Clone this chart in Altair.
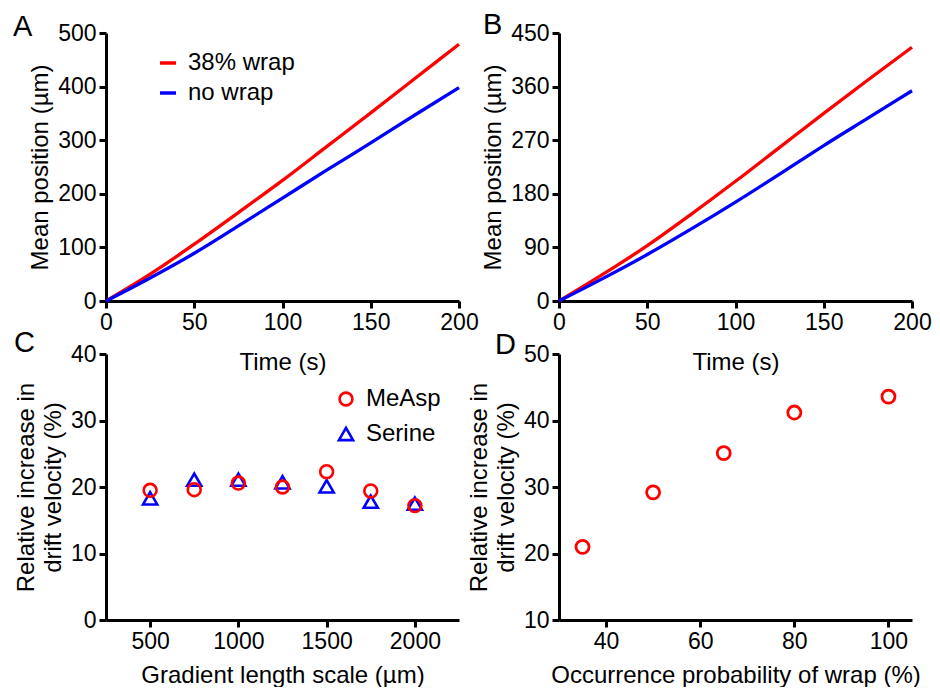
import altair as alt
import pandas as pd

# ---- data ----
time_s = [0, 25, 50, 75, 100, 125, 150, 175, 200]
a_wrap = [0, 50, 106, 165, 225, 288, 351, 415, 479]
a_nowrap = [0, 43, 89, 140, 192, 244, 295, 347, 398]
b_wrap = [0, 45, 93, 146, 201, 258, 315, 371, 426]
b_nowrap = [0, 38, 78, 121, 166, 213, 261, 307, 353]
series_names = ["38% wrap", "no wrap"]
series_colors = ["#ff0000", "#0000ff"]

gradient_um = [500, 750, 1000, 1250, 1500, 1750, 2000]
c_measp = [19.5, 19.6, 20.6, 20.0, 22.3, 19.4, 17.2]
c_serine = [18.3, 21.1, 21.1, 20.7, 20.1, 17.8, 17.5]
attractants = ["MeAsp", "Serine"]

wrap_prob = [35, 50, 65, 80, 100]
d_increase = [21.0, 29.2, 35.1, 41.2, 43.6]

panel_letters = ["A", "B", "C", "D"]

FONT = "Liberation Sans"
W = 353


def lines_df(wrap, nowrap):
    rows = []
    for t, v in zip(time_s, wrap):
        rows.append({"t": t, "v": v, "s": series_names[0]})
    for t, v in zip(time_s, nowrap):
        rows.append({"t": t, "v": v, "s": series_names[1]})
    return pd.DataFrame(rows)


def letter(ch, dx, dy):
    return alt.Chart(pd.DataFrame({"lab": [ch]})).mark_text(
        font=FONT, fontSize=29, align="left", baseline="alphabetic", color="black"
    ).encode(x=alt.value(dx), y=alt.value(dy), text="lab:N")


def xaxis(title, values, tp):
    return alt.Axis(title=title, values=values, grid=False, format="d", titlePadding=tp)


def yaxis(title, values):
    return alt.Axis(title=title, values=values, grid=False, format="d")


# Panel A
dfa = lines_df(a_wrap, a_nowrap)
lineA = alt.Chart(dfa).mark_line(strokeWidth=3.3, interpolate="monotone").encode(
    x=alt.X("t:Q", scale=alt.Scale(domain=[0, 200], nice=False),
            axis=xaxis("Time (s)", [0, 50, 100, 150, 200], 16)),
    y=alt.Y("v:Q", scale=alt.Scale(domain=[0, 500], nice=False),
            axis=yaxis("Mean position (µm)", [0, 100, 200, 300, 400, 500])),
    color=alt.Color("s:N", scale=alt.Scale(domain=series_names, range=series_colors),
                    legend=alt.Legend(title=None, orient="none", legendX=50, legendY=18,
                                      symbolType="stroke", symbolSize=256,
                                      symbolStrokeWidth=3.5, labelFontSize=24,
                                      labelFont=FONT, rowPadding=6, labelOffset=8,
                                      labelColor="black")),
)
panelA = alt.layer(lineA, letter("A", -93, 3)).properties(width=W, height=268)

# Panel B
dfb = lines_df(b_wrap, b_nowrap)
lineB = alt.Chart(dfb).mark_line(strokeWidth=3.3, interpolate="monotone").encode(
    x=alt.X("t:Q", scale=alt.Scale(domain=[0, 200], nice=False),
            axis=xaxis("Time (s)", [0, 50, 100, 150, 200], 16)),
    y=alt.Y("v:Q", scale=alt.Scale(domain=[0, 450], nice=False),
            axis=yaxis("Mean position (µm)", [0, 90, 180, 270, 360, 450])),
    color=alt.Color("s:N", scale=alt.Scale(domain=series_names, range=series_colors),
                    legend=None),
)
panelB = alt.layer(lineB, letter("B", -76, 1)).properties(width=W, height=268)

# Panel C
rows = []
for g, v in zip(gradient_um, c_serine):
    rows.append({"g": g, "v": v, "a": attractants[1]})
for g, v in zip(gradient_um, c_measp):
    rows.append({"g": g, "v": v, "a": attractants[0]})
dfc = pd.DataFrame(rows)
legC = alt.Legend(title=None, orient="none", legendX=228, legendY=33,
                  symbolSize=160, symbolStrokeWidth=2.6,
                  labelFontSize=24, labelFont=FONT, rowPadding=11,
                  labelOffset=8, labelColor="black")
ptsC = alt.Chart(dfc).mark_point(filled=False, strokeWidth=2.6, opacity=1).encode(
    x=alt.X("g:Q", scale=alt.Scale(domain=[250, 2250], nice=False),
            axis=xaxis("Gradient length scale (µm)", [500, 1000, 1500, 2000], 10)),
    y=alt.Y("v:Q", scale=alt.Scale(domain=[0, 40], nice=False),
            axis=yaxis(["Relative increase in", "drift velocity (%)"], [0, 10, 20, 30, 40])),
    color=alt.Color("a:N", scale=alt.Scale(domain=attractants, range=series_colors),
                    legend=legC),
    shape=alt.Shape("a:N", scale=alt.Scale(domain=attractants, range=["circle", "triangle-up"]),
                    legend=legC),
    size=alt.Size("a:N", scale=alt.Scale(domain=attractants, range=[165, 200]), legend=None),
    order=alt.Order("a:N", sort="descending"),
)
panelC = alt.layer(ptsC, letter("C", -92, -2)).properties(width=W, height=266)

# Panel D
dfd = pd.DataFrame({"p": wrap_prob, "v": d_increase})
ptsD = alt.Chart(dfd).mark_point(shape="circle", filled=False, strokeWidth=2.8,
                                 size=170, color="#ff0000", opacity=1).encode(
    x=alt.X("p:Q", scale=alt.Scale(domain=[30, 105], nice=False),
            axis=xaxis("Occurrence probability of wrap (%)", [40, 60, 80, 100], 10)),
    y=alt.Y("v:Q", scale=alt.Scale(domain=[10, 50], nice=False, zero=False),
            axis=yaxis(["Relative increase in", "drift velocity (%)"], [10, 20, 30, 40, 50])),
)
panelD = alt.layer(ptsD, letter("D", -64, 0)).properties(width=W, height=266)

chart = alt.ConcatChart(
    concat=[panelA, panelB, panelC, panelD],
    columns=2,
    spacing=alt.RowColnumber(row=53, column=100),
    bounds="flush",
    padding={"left": 5, "top": 3, "right": 0, "bottom": 0},
).resolve_scale(
    color="independent", shape="independent", size="independent",
    x="independent", y="independent",
).resolve_legend(color="independent", shape="independent", size="independent").configure_view(
    stroke=None
).configure_axis(
    domainColor="black", domainWidth=3, tickColor="black", tickWidth=3, tickSize=7,
    labelFont=FONT, labelFontSize=23, labelColor="black", labelPadding=3,
    titleFont=FONT, titleFontSize=24, titleFontWeight="normal", titleColor="black",
    labelFlush=False, labelOverlap=False, titleLineHeight=27,
).configure_axisY(titlePadding=5)

chart.save("out.html", embed_options={"renderer": "svg", "actions": False})
